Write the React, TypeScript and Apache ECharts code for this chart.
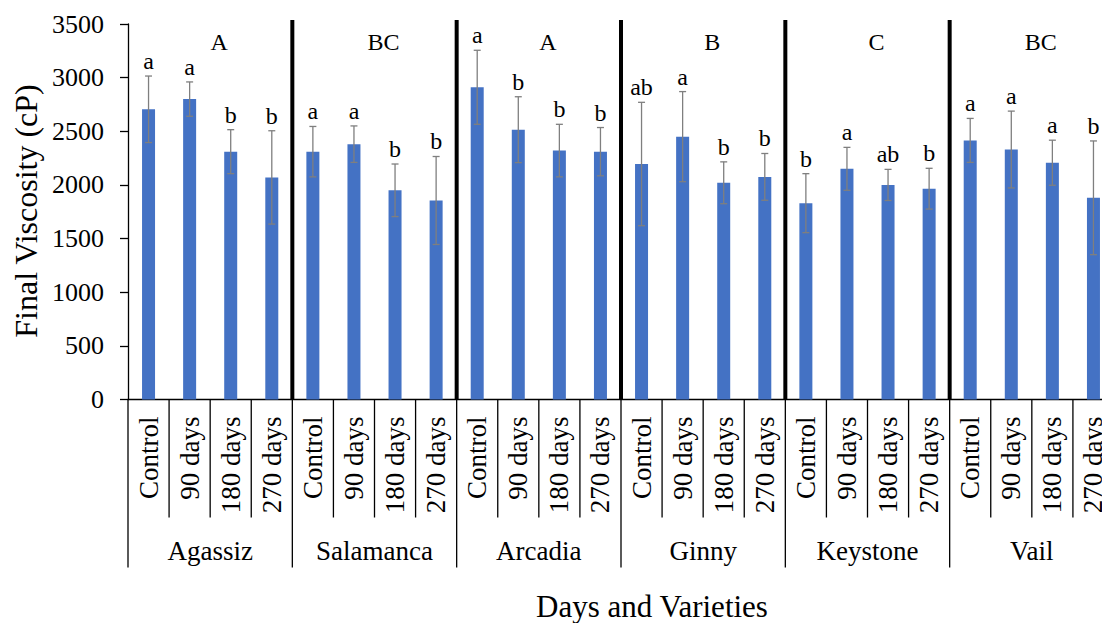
import React, { useEffect, useRef } from "react";
import * as echarts from "echarts";

// Storage treatments within each variety
const treatments = ["Control", "90 days", "180 days", "270 days"];
const varieties = ["Agassiz", "Salamanca", "Arcadia", "Ginny", "Keystone", "Vail"];
// Variety-level significance groups
const varietyLetters = ["A", "BC", "A", "B", "C", "BC"];

// Final viscosity means (cP), in variety order, four treatments each
const viscosityMeans = [
  2705, 2800, 2310, 2070,
  2310, 2380, 1950, 1855,
  2910, 2515, 2320, 2310,
  2195, 2450, 2020, 2075,
  1830, 2150, 2000, 1965,
  2415, 2330, 2207, 1880,
];
// Standard deviations (cP)
const viscositySD = [
  310, 160, 205, 435,
  235, 170, 245, 410,
  345, 307, 245, 225,
  575, 420, 195, 218,
  275, 200, 145, 190,
  205, 358, 210, 530,
];
// Treatment-level significance letters
const treatmentLetters = [
  "a", "a", "b", "b",
  "a", "a", "b", "b",
  "a", "b", "b", "b",
  "ab", "a", "b", "b",
  "b", "a", "ab", "b",
  "a", "a", "a", "b",
];

const yTicks = { min: 0, max: 3500, interval: 500 };

const SERIF = "Liberation Serif";
const BAR_COLOR = "#4472C4";
const ERR_COLOR = "#7f7f7f";

export default function App() {
  const ref = useRef<HTMLDivElement | null>(null);

  useEffect(() => {
    if (!ref.current) return;
    const chart = echarts.init(ref.current, undefined, { renderer: "svg" });

    const nCat = varieties.length * treatments.length;
    const categoryLabels: string[] = [];
    varieties.forEach(() => treatments.forEach((t) => categoryLabels.push(t)));

    const errorData = viscosityMeans.map((m, i) => [i, m - viscositySD[i], m + viscositySD[i]]);
    const boundaryData: number[][] = [];
    for (let k = 0; k <= nCat; k++) boundaryData.push([k, 0]);
    const groupData = varieties.map((_, g) => [g, 0]);

    const letterLevel = 3335;

    chart.setOption({
      animation: false,
      textStyle: { fontFamily: SERIF },
      grid: { left: 128, top: 24, width: 986, height: 375.5 },
      xAxis: [
        {
          type: "category",
          data: categoryLabels,
          axisLine: { show: true, lineStyle: { color: "#000", width: 1.3 } },
          axisTick: { show: false },
          axisLabel: {
            rotate: 90,
            margin: 17,
            interval: 0,
            color: "#000",
            fontFamily: SERIF,
            fontSize: 27,
          },
        },
        {
          type: "category",
          data: varieties,
          position: "bottom",
          axisLine: { show: false },
          axisTick: { show: false },
          axisLabel: {
            margin: 138,
            interval: 0,
            color: "#000",
            fontFamily: SERIF,
            fontSize: 27,
          },
        },
      ],
      yAxis: {
        type: "value",
        min: yTicks.min,
        max: yTicks.max,
        interval: yTicks.interval,
        axisLine: { show: true, lineStyle: { color: "#000", width: 1.3 } },
        axisTick: { show: true, length: 8, lineStyle: { color: "#000", width: 1.3 } },
        splitLine: { show: false },
        axisLabel: {
          margin: 24,
          color: "#000",
          fontFamily: SERIF,
          fontSize: 26,
          formatter: (v: number) => String(v),
        },
      },
      series: [
        {
          type: "bar",
          data: viscosityMeans,
          barWidth: 13,
          itemStyle: { color: BAR_COLOR },
          z: 2,
        },
        {
          type: "custom",
          data: errorData,
          encode: { x: 0, y: [1, 2] },
          clip: false,
          silent: true,
          z: 3,
          renderItem: (params: any, api: any) => {
            const i = api.value(0);
            const hi = api.coord([i, api.value(2)]);
            const lo = api.coord([i, api.value(1)]);
            const half = 3.5;
            const st = { stroke: ERR_COLOR, lineWidth: 1.3 };
            return {
              type: "group",
              children: [
                { type: "line", shape: { x1: hi[0], y1: hi[1], x2: lo[0], y2: lo[1] }, style: st },
                { type: "line", shape: { x1: hi[0] - half, y1: hi[1], x2: hi[0] + half, y2: hi[1] }, style: st },
                { type: "line", shape: { x1: lo[0] - half, y1: lo[1], x2: lo[0] + half, y2: lo[1] }, style: st },
                {
                  type: "text",
                  x: hi[0],
                  y: hi[1] - 3,
                  style: {
                    text: treatmentLetters[params.dataIndex],
                    fill: "#000",
                    fontFamily: SERIF,
                    fontSize: 24,
                    align: "center",
                    verticalAlign: "bottom",
                  },
                },
              ],
            };
          },
        },
        {
          // Variety dividers and the two-level category table below the axis
          type: "custom",
          data: boundaryData,
          encode: { x: 0, y: 1 },
          clip: false,
          silent: true,
          z: 4,
          renderItem: (params: any, api: any) => {
            const k = api.value(0);
            const cs = params.coordSys;
            const band = api.size([1, 0])[0];
            const c = api.coord([k < nCat ? k : nCat - 1, 0]);
            const x = k < nCat ? c[0] - band / 2 : c[0] + band / 2;
            const base = cs.y + cs.height;
            const major = k % treatments.length === 0;
            const children: any[] = [
              {
                type: "line",
                shape: { x1: x, y1: base, x2: x, y2: base + (major ? 168 : 118) },
                style: { stroke: "#000", lineWidth: 1.3 },
              },
            ];
            if (major && k > 0 && k < nCat) {
              children.push({
                type: "line",
                shape: { x1: x, y1: cs.y - 4, x2: x, y2: base },
                style: { stroke: "#000", lineWidth: 4 },
              });
            }
            return { type: "group", children };
          },
        },
        {
          // Variety significance letters
          type: "custom",
          data: groupData,
          encode: { x: 0, y: 1 },
          clip: false,
          silent: true,
          z: 4,
          renderItem: (params: any, api: any) => {
            const g = api.value(0);
            const band = api.size([1, 0])[0];
            const c = api.coord([g * treatments.length + 2, letterLevel]);
            return {
              type: "text",
              x: c[0] - band / 2 + 9,
              y: c[1],
              style: {
                text: varietyLetters[g],
                fill: "#000",
                fontFamily: SERIF,
                fontSize: 24,
                align: "center",
                verticalAlign: "middle",
              },
            };
          },
        },
      ],
      graphic: [
        {
          type: "text",
          x: 26,
          y: 211,
          rotation: Math.PI / 2,
          style: {
            text: "Final Viscosity (cP)",
            fill: "#000",
            fontFamily: SERIF,
            fontSize: 32,
            align: "center",
            verticalAlign: "middle",
          },
        },
        {
          type: "text",
          x: 652,
          y: 606,
          style: {
            text: "Days and Varieties",
            fill: "#000",
            fontFamily: SERIF,
            fontSize: 31,
            align: "center",
            verticalAlign: "middle",
          },
        },
      ],
    });

    return () => chart.dispose();
  }, []);

  return (
    <div
      style={{
        position: "fixed",
        left: 0,
        top: 0,
        width: 1102,
        height: 623,
        overflow: "hidden",
        background: "#fff",
      }}
    >
      <div ref={ref} style={{ width: 1120, height: 623 }} />
    </div>
  );
}
